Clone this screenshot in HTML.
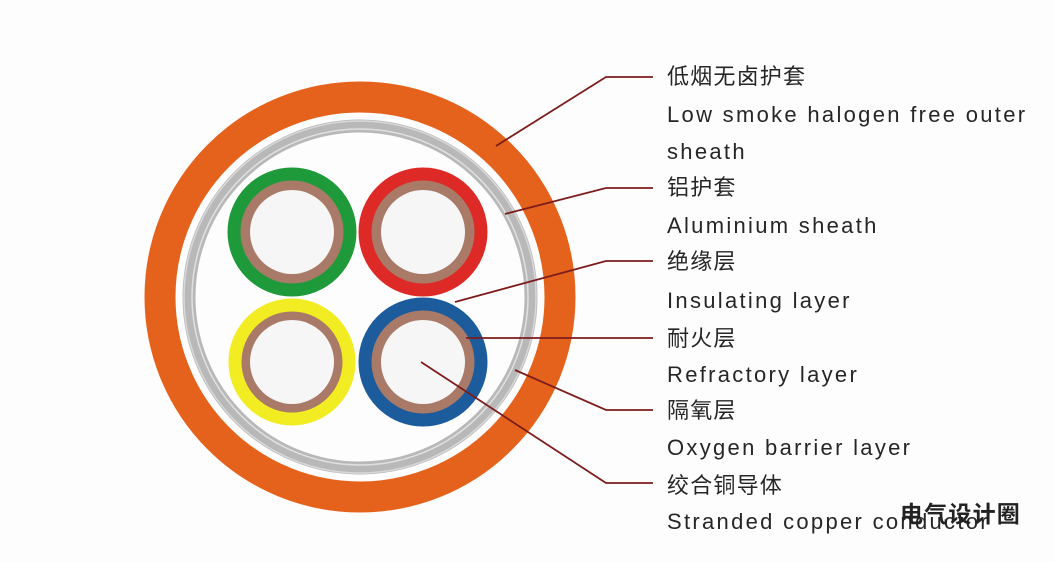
<!DOCTYPE html>
<html><head><meta charset="utf-8"><style>
html,body{margin:0;padding:0;background:#fdfdfd;}
svg{display:block}
text{font-family:"Liberation Sans","Noto Sans CJK SC",sans-serif;fill:#262626;font-size:22px;letter-spacing:2.3px}
text.cn{letter-spacing:1.2px}
</style></head><body>
<svg width="1054" height="562" viewBox="0 0 1054 562">
<rect width="1054" height="562" fill="#fdfdfd"/>
<circle cx="360" cy="297" r="200" fill="none" stroke="#e5621c" stroke-width="31"/>
<circle cx="360" cy="297" r="184" fill="#fdfdfd"/>
<circle cx="360" cy="297" r="171" fill="none" stroke="#b8b8b8" stroke-width="13"/>
<circle cx="360" cy="297" r="176" fill="none" stroke="#d8d8d8" stroke-width="1.5"/>
<circle cx="360" cy="297" r="168" fill="none" stroke="#e0e0e0" stroke-width="1.5"/>
<circle cx="360" cy="297" r="164" fill="#fdfdfd"/>
<g>
<circle cx="292" cy="232" r="58" fill="#a97a68" stroke="#1f9a3a" stroke-width="13"/>
<circle cx="292" cy="232" r="42" fill="#f6f6f6"/>
<circle cx="423" cy="232" r="58" fill="#a97a68" stroke="#de2a26" stroke-width="13"/>
<circle cx="423" cy="232" r="42" fill="#f6f6f6"/>
<circle cx="292" cy="362" r="57" fill="#a97a68" stroke="#f2ec22" stroke-width="13"/>
<circle cx="292" cy="362" r="42" fill="#f6f6f6"/>
<circle cx="423" cy="362" r="58" fill="#a97a68" stroke="#1c5c9c" stroke-width="13"/>
<circle cx="423" cy="362" r="42" fill="#f6f6f6"/>
</g>
<g fill="none" stroke="#7d1c1c" stroke-width="1.8">
<polyline points="496,146 606,77 653,77"/>
<polyline points="505,214 606,188 653,188"/>
<polyline points="455,302 606,261 653,261"/>
<polyline points="466,338 653,338"/>
<polyline points="515,370 606,410 653,410"/>
<polyline points="421,362 606,483 653,483"/>
</g>
<text class="cn" x="667" y="84">低烟无卤护套</text>
<text x="667" y="122">Low smoke halogen free outer</text>
<text x="667" y="159">sheath</text>
<text class="cn" x="667" y="195">铝护套</text>
<text x="667" y="233">Aluminium sheath</text>
<text class="cn" x="667" y="269">绝缘层</text>
<text x="667" y="308">Insulating layer</text>
<text class="cn" x="667" y="346">耐火层</text>
<text x="667" y="382">Refractory layer</text>
<text class="cn" x="667" y="418">隔氧层</text>
<text x="667" y="455">Oxygen barrier layer</text>
<text class="cn" x="667" y="493">绞合铜导体</text>
<text x="667" y="529">Stranded copper conductor</text>
<text class="cn" x="900" y="522" style="font-size:23px;fill:#222;font-weight:bold">电气设计圈</text>
</svg>
</body></html>
